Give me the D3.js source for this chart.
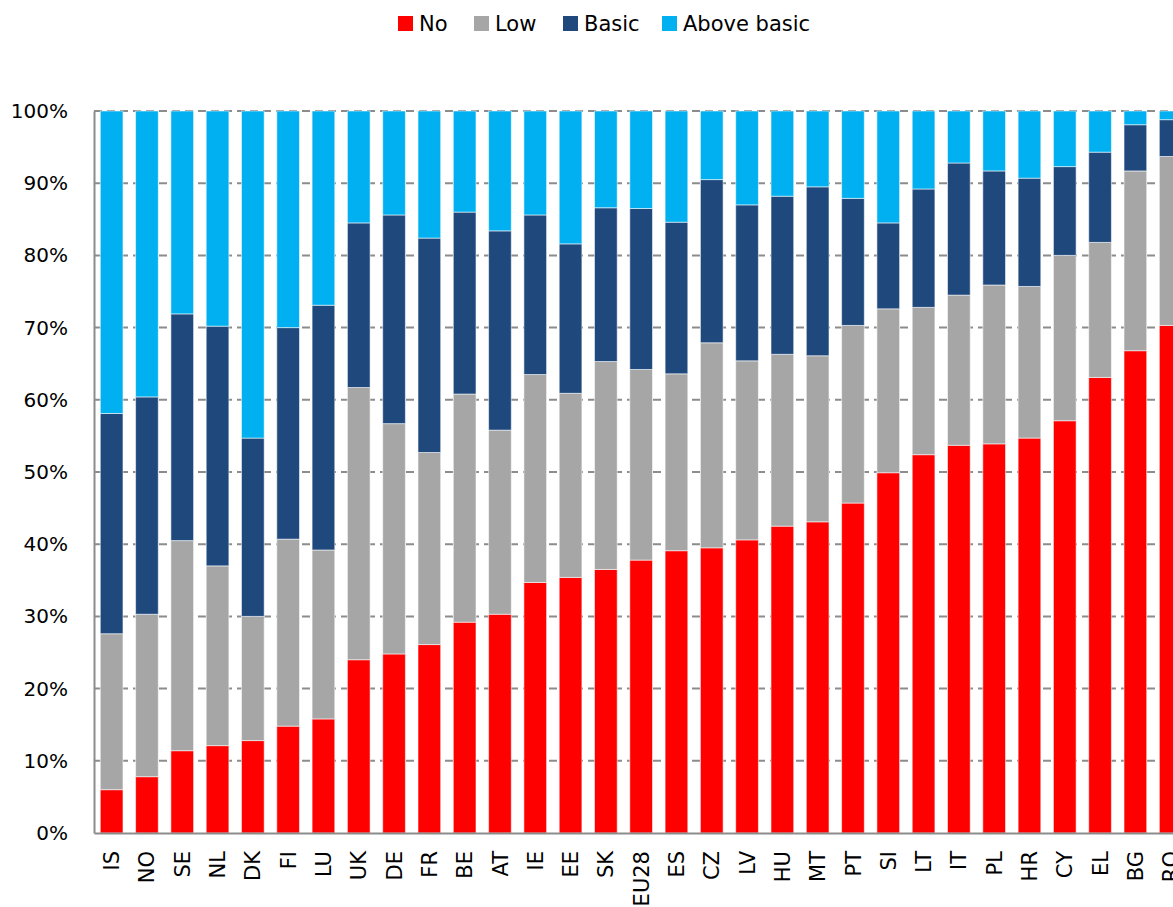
<head>
  <script src="https://cdnjs.cloudflare.com/ajax/libs/d3/7.8.5/d3.min.js"></script>
</head>
<style media="screen">
  body { margin: 0; background: #fff; }
  svg { display: block; overflow: hidden; }
  text { font-family: "DejaVu Sans", sans-serif; fill: #000; }
  .grid line {
    stroke: #8c8c8c;
    stroke-width: 2px;
    stroke-dasharray: 8, 5;
  }
  .axis .domain { stroke: #8c8c8c; stroke-width: 2px; }
  .bar { stroke: #fff; stroke-opacity: 0.55; stroke-width: 1px; }
</style>
<body>
<script type="text/javascript">
// categories, sorted by share with no skills
var countries = ["IS", "NO", "SE", "NL", "DK", "FI", "LU", "UK", "DE", "FR", "BE", "AT", "IE", "EE", "SK",
  "EU28", "ES", "CZ", "LV", "HU", "MT", "PT", "SI", "LT", "IT", "PL", "HR", "CY", "EL", "BG", "RO"];

// series values (%)
var noSkills = [6.0, 7.8, 11.4, 12.1, 12.8, 14.8, 15.8, 24.0, 24.8, 26.1, 29.2, 30.3, 34.7, 35.4, 36.5,
  37.8, 39.1, 39.5, 40.6, 42.5, 43.1, 45.7, 49.9, 52.4, 53.7, 53.9, 54.7, 57.1, 63.1, 66.8, 70.3];
var lowSkills = [21.6, 22.5, 29.1, 24.9, 17.2, 25.9, 23.4, 37.7, 31.9, 26.6, 31.6, 25.5, 28.8, 25.5, 28.8,
  26.4, 24.5, 28.4, 24.8, 23.8, 23.0, 24.6, 22.7, 20.4, 20.8, 22.0, 21.0, 22.9, 18.7, 24.9, 23.4];
var basicSkills = [30.5, 30.1, 31.4, 33.2, 24.7, 29.3, 33.9, 22.8, 28.9, 29.7, 25.2, 27.6, 22.1, 20.7, 21.3,
  22.3, 21.0, 22.6, 21.6, 21.9, 23.4, 17.6, 11.9, 16.4, 18.3, 15.8, 15.0, 12.3, 12.5, 6.4, 5.1];
var aboveBasic = [41.9, 39.6, 28.1, 29.8, 45.3, 30.0, 26.9, 15.5, 14.4, 17.6, 14.0, 16.6, 14.4, 18.4, 13.4,
  13.5, 15.4, 9.5, 13.0, 11.8, 10.5, 12.1, 15.5, 10.8, 7.2, 8.3, 9.3, 7.7, 5.7, 1.9, 1.2];

var seriesNames = ["No", "Low", "Basic", "Above basic"];
var seriesColors = ["#ff0000", "#a6a6a6", "#1f497d", "#00b0f0"];
var yTicks = [0, 10, 20, 30, 40, 50, 60, 70, 80, 90, 100];

var width = 1173, height = 907;
var margin = {top: 111, left: 94, bottom: 74};
var step = 35.3;

// table for the stack
var table = countries.map(function(c, i) {
  return {country: c, "No": noSkills[i], "Low": lowSkills[i], "Basic": basicSkills[i], "Above basic": aboveBasic[i]};
});
var stacked = d3.stack().keys(seriesNames)(table);

var x = d3.scaleBand()
    .domain(countries)
    .range([margin.left, margin.left + step * countries.length])
    .paddingInner(0.357)
    .paddingOuter(0.178);
var y = d3.scaleLinear().domain([0, 100]).range([height - margin.bottom, margin.top]);

var svg = d3.select("body").append("svg")
    .attr("width", width)
    .attr("height", height);

// gridlines
svg.append("g")
    .attr("class", "grid")
  .selectAll("line")
  .data(yTicks.filter(function(d) { return d > 0; }))
  .enter().append("line")
    .attr("x1", margin.left)
    .attr("x2", margin.left + step * countries.length)
    .attr("y1", function(d) { return y(d); })
    .attr("y2", function(d) { return y(d); });

// bars
svg.append("g").selectAll("g")
  .data(stacked)
  .enter().append("g")
    .attr("fill", function(d, i) { return seriesColors[i]; })
  .selectAll("rect")
  .data(function(d) { return d; })
  .enter().append("rect")
    .attr("class", "bar")
    .attr("x", function(d) { return x(d.data.country); })
    .attr("width", x.bandwidth())
    .attr("y", function(d) { return y(d[1]); })
    .attr("height", function(d) { return y(d[0]) - y(d[1]); });

// Y axis
var yAxis = svg.append("g")
    .attr("class", "axis")
    .attr("transform", "translate(" + margin.left + ",0)")
    .call(d3.axisLeft(y).tickValues(yTicks).tickFormat(function(d) { return d + "%"; })
      .tickSize(0).tickPadding(26));
yAxis.selectAll("text").style("font-size", "20px").attr("font-family", null);

// X axis
var xAxis = svg.append("g")
    .attr("class", "axis")
    .attr("transform", "translate(0," + y(0) + ")")
    .call(d3.axisBottom(x).tickSize(0).tickSizeOuter(0));
xAxis.selectAll("text")
    .style("font-size", "21px")
    .style("text-anchor", "end")
    .attr("transform", "rotate(-90)")
    .attr("x", -18)
    .attr("y", 0)
    .attr("dy", "0.36em");
xAxis.attr("font-family", null);
yAxis.attr("font-family", null);

// legend
var legendX = [398, 474, 563, 662];
var legend = svg.append("g").selectAll("g")
  .data(seriesNames)
  .enter().append("g")
    .attr("transform", function(d, i) { return "translate(" + legendX[i] + ",16)"; });
legend.append("rect")
    .attr("width", 15)
    .attr("height", 15)
    .attr("fill", function(d, i) { return seriesColors[i]; });
legend.append("text")
    .attr("x", 21)
    .attr("y", 15)
    .style("font-size", "21px")
    .text(function(d) { return d; });
</script>
</body>
